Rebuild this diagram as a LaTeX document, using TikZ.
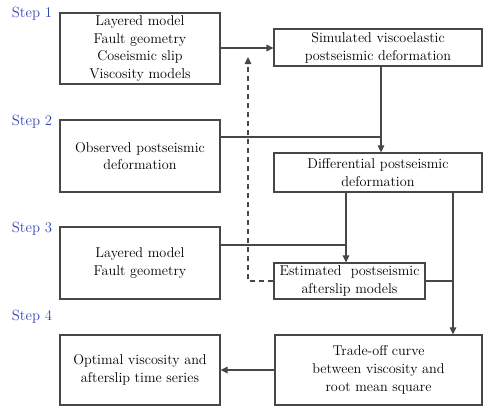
\documentclass[tikz,border=0pt]{standalone}
\usetikzlibrary{arrows.meta}
\definecolor{linegray}{HTML}{474747}
\definecolor{stepblue}{HTML}{3344B8}
\begin{document}
\begin{tikzpicture}[x=1pt,y=-1pt,
  box/.style={draw=linegray,line width=1.1pt,rectangle,inner sep=0pt,align=center,
    font=\rmfamily\fontsize{14.2}{17.8}\selectfont,text=black},
  steplabel/.style={text=stepblue,font=\rmfamily\fontsize{14.8}{18}\selectfont,inner sep=0pt},
  conn/.style={draw=linegray,line width=1.1pt},
  arr/.style={conn,-{Triangle[length=7pt,width=6.5pt]}},
  darr/.style={arr,dashed,dash pattern=on 5pt off 4pt}]
\useasboundingbox (0,0) rectangle (483,407);
% steps
\node[steplabel] (s1) at (32,14) {Step 1};
\node[steplabel] (s2) at (32,122) {Step 2};
\node[steplabel] (s3) at (32,229) {Step 3};
\node[steplabel] (s4) at (32,317) {Step 4};
% boxes
\node[box,minimum width=160pt,minimum height=71pt] (A) at (140,48.5) {Layered model\\Fault geometry\\Coseismic slip\\Viscosity models};
\node[box,minimum width=208pt,minimum height=37pt] (B) at (378,47.5) {Simulated viscoelastic\\postseismic deformation};
\node[box,minimum width=160pt,minimum height=72pt] (C) at (140,156) {Observed postseismic\\deformation};
\node[box,minimum width=208pt,minimum height=39pt] (D) at (378,172.5) {Differential postseismic\\deformation};
\node[box,minimum width=160pt,minimum height=72pt] (E) at (140,263) {Layered model\\Fault geometry};
\node[box,minimum width=151pt,minimum height=36pt] (F) at (349.5,281) {Estimated\ \ postseismic\\afterslip models};
\node[box,minimum width=160pt,minimum height=70pt] (G) at (140,370) {Optimal viscosity and\\afterslip time series};
\node[box,minimum width=207pt,minimum height=70pt] (H) at (378.5,370) {Trade-off curve\\between viscosity and\\root mean square};
% junction coordinates
\coordinate (j1) at (381,137);
\coordinate (j2) at (346,245);
\coordinate (j3) at (453,281);
\coordinate (d1) at (248,281);
\coordinate (d2) at (248,57);
% connectors
\draw[arr] (A.east |- 0,48) -- (B.west |- 0,48);
\draw[arr] (B.south -| j1) -- (D.north -| j1);
\draw[conn] (C.east |- j1) -- (j1);
\draw[arr] (D.south -| j2) -- (F.north -| j2);
\draw[conn] (E.east |- j2) -- (j2);
\draw[arr] (D.south -| j3) -- (H.north -| j3);
\draw[conn] (F.east |- j3) -- (j3);
\draw[darr] (F.west) -- (d1) -- (d2);
\draw[arr] (H.west) -- (G.east);
\end{tikzpicture}
\end{document}
